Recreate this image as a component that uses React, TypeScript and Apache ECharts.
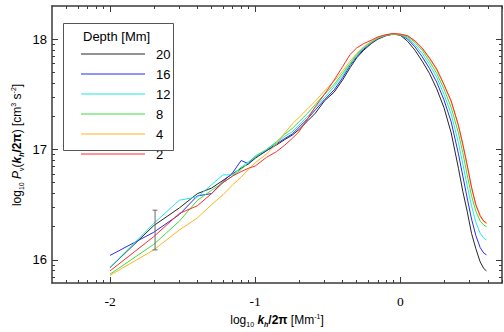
import React, { useEffect, useRef } from 'react';
import * as echarts from 'echarts';

// log10 kh/2pi sample positions
const logK = [-2.0, -1.699, -1.523, -1.398, -1.301, -1.222, -1.155, -1.097, -1.046, -1.0, -0.921, -0.854, -0.796, -0.745, -0.699, -0.638, -0.585, -0.523, -0.456, -0.398, -0.347, -0.301, -0.252, -0.2, -0.155, -0.1, -0.05,
  0.0, 0.05, 0.1, 0.15, 0.2, 0.25, 0.3, 0.35, 0.4, 0.43, 0.46, 0.49, 0.52, 0.55, 0.575, 0.593];

const depth20 = [15.93, 16.31, 16.47, 16.60, 16.65, 16.72, 16.78, 16.83, 16.87, 16.92, 16.99, 17.04, 17.09, 17.13, 17.18, 17.26, 17.33, 17.44, 17.52, 17.63, 17.74, 17.83, 17.90, 17.96, 18.00, 18.03, 18.045,
  18.035, 17.98, 17.90, 17.80, 17.69, 17.55, 17.38, 17.15, 16.83, 16.62, 16.44, 16.24, 16.10, 15.98, 15.92, 15.90];
const depth16 = [16.04, 16.25, 16.41, 16.58, 16.60, 16.71, 16.79, 16.90, 16.87, 16.93, 16.99, 17.05, 17.10, 17.14, 17.20, 17.28, 17.36, 17.45, 17.54, 17.65, 17.76, 17.84, 17.91, 17.965, 18.005, 18.035, 18.045,
  18.04, 18.00, 17.93, 17.84, 17.735, 17.61, 17.45, 17.25, 16.96, 16.76, 16.56, 16.37, 16.22, 16.11, 16.06, 16.045];
const depth12 = [15.93, 16.33, 16.54, 16.57, 16.68, 16.77, 16.77, 16.84, 16.89, 16.93, 17.00, 17.06, 17.12, 17.16, 17.22, 17.30, 17.38, 17.47, 17.57, 17.67, 17.77, 17.85, 17.92, 17.97, 18.01, 18.035, 18.045,
  18.04, 18.01, 17.95, 17.87, 17.77, 17.655, 17.50, 17.32, 17.06, 16.87, 16.67, 16.49, 16.34, 16.24, 16.195, 16.18];
const depth8 = [15.87, 16.14, 16.35, 16.54, 16.63, 16.70, 16.76, 16.82, 16.88, 16.94, 17.00, 17.07, 17.14, 17.19, 17.25, 17.33, 17.41, 17.50, 17.59, 17.69, 17.78, 17.86, 17.93, 17.975, 18.01, 18.035, 18.045,
  18.04, 18.02, 17.97, 17.90, 17.80, 17.69, 17.55, 17.38, 17.15, 16.97, 16.77, 16.58, 16.44, 16.35, 16.315, 16.30];
const depth4 = [15.86, 16.09, 16.27, 16.38, 16.50, 16.59, 16.68, 16.75, 16.82, 16.88, 16.96, 17.05, 17.15, 17.23, 17.29, 17.37, 17.44, 17.53, 17.62, 17.71, 17.80, 17.87, 17.93, 17.98, 18.015, 18.04, 18.05,
  18.045, 18.03, 17.98, 17.915, 17.825, 17.72, 17.585, 17.43, 17.21, 17.04, 16.85, 16.65, 16.49, 16.39, 16.345, 16.33];
const depth2 = [15.90, 16.21, 16.42, 16.49, 16.60, 16.70, 16.76, 16.80, 16.83, 16.85, 16.93, 16.98, 17.04, 17.10, 17.16, 17.28, 17.39, 17.50, 17.63, 17.75, 17.86, 17.92, 17.96, 17.99, 18.02, 18.04, 18.05,
  18.045, 18.03, 17.985, 17.92, 17.83, 17.73, 17.59, 17.44, 17.22, 17.05, 16.86, 16.66, 16.50, 16.40, 16.35, 16.335];

const depthLabels = ['20', '16', '12', '8', '4', '2'];
const depthValues = [depth20, depth16, depth12, depth8, depth4, depth2];
const depthColors = ['#262626', '#2a2af0', '#22e6e6', '#3ede3e', '#ffb41e', '#ff2b2b'];

// representative error bar: [x, low, high]
const errorBar = [[-1.69, 16.09, 16.45]];

const xMajor = [-2, -1, 0];
const xMinor = [-2.301, -2.222, -2.155, -2.097, -2.046, -1.699, -1.523, -1.398, -1.301, -1.222, -1.155, -1.097, -1.046,
  -0.699, -0.523, -0.398, -0.301, -0.222, -0.155, -0.097, -0.046, 0.301, 0.477, 0.602, 0.699];
const yMajor = [16, 17, 18];
const yMinor = [15.845, 15.903, 15.954, 16.301, 16.477, 16.602, 16.699, 16.778, 16.845, 16.903, 16.954,
  17.301, 17.477, 17.602, 17.699, 17.778, 17.845, 17.903, 17.954];

const X_MIN = -2.4, X_MAX = 0.7, Y_MIN = 15.79, Y_MAX = 18.3;
const frame = { color: '#3a3a3a', width: 1.5 };

export default function App() {
  const ref = useRef<HTMLDivElement>(null);
  useEffect(() => {
    const chart = echarts.init(ref.current!, null, { renderer: 'svg' });
    const gridRect = { left: 52, top: 6, right: 2, bottom: 49 };
    const baseX = (gridIndex: number, position: string) => ({
      type: 'value', gridIndex, position, min: X_MIN, max: X_MAX,
      splitLine: { show: false },
    });
    const baseY = (gridIndex: number, position: string) => ({
      type: 'value', gridIndex, position, min: Y_MIN, max: Y_MAX,
      splitLine: { show: false },
    });
    const sans = 'Liberation Sans, Arial, sans-serif';
    const richBase = {
      n: { fontSize: 12, fontFamily: sans, color: '#000', lineHeight: 15 },
      s: { fontSize: 7, fontFamily: sans, color: '#000', verticalAlign: 'bottom' },
      p: { fontSize: 7, fontFamily: sans, color: '#000', verticalAlign: 'top' },
      k: { fontSize: 12, fontFamily: sans, color: '#000', fontWeight: 'bold', fontStyle: 'italic', lineHeight: 15 },
      ks: { fontSize: 7, fontFamily: sans, color: '#000', fontWeight: 'bold', fontStyle: 'italic', verticalAlign: 'bottom' },
      b: { fontSize: 12, fontFamily: sans, color: '#000', fontWeight: 'bold', lineHeight: 15 },
      i: { fontSize: 12, fontFamily: sans, color: '#000', fontStyle: 'italic', lineHeight: 15 },
    };

    const lineSeries = depthLabels.map((name, si) => ({
      name,
      type: 'line',
      xAxisIndex: 0,
      yAxisIndex: 0,
      symbol: 'none',
      showSymbol: false,
      data: logK.map((x, i) => [x, depthValues[si][i]]),
      lineStyle: { color: depthColors[si], width: 1 },
      itemStyle: { color: depthColors[si] },
      z: 2 + si,
    }));

    const option = {
      animation: false,
      backgroundColor: '#ffffff',
      grid: [{ ...gridRect }, { ...gridRect }],
      xAxis: [
        {
          ...baseX(0, 'bottom'),
          axisLine: { show: true, onZero: false, lineStyle: frame },
          axisTick: { show: true, inside: true, length: 6, customValues: xMajor, lineStyle: { color: frame.color, width: 1 } },
          axisLabel: { show: true, customValues: xMajor, margin: 11, fontFamily: 'Liberation Serif, Times New Roman, serif', fontSize: 13.5, color: '#000' },
        },
        {
          ...baseX(0, 'top'),
          axisLine: { show: true, onZero: false, lineStyle: frame },
          axisTick: { show: true, inside: true, length: 6, customValues: xMajor, lineStyle: { color: frame.color, width: 1 } },
          axisLabel: { show: false },
        },
        {
          ...baseX(1, 'bottom'),
          axisLine: { show: false, onZero: false },
          axisTick: { show: true, inside: true, length: 3, customValues: xMinor, lineStyle: { color: frame.color, width: 1 } },
          axisLabel: { show: false },
        },
        {
          ...baseX(1, 'top'),
          axisLine: { show: false, onZero: false },
          axisTick: { show: true, inside: true, length: 3, customValues: xMinor, lineStyle: { color: frame.color, width: 1 } },
          axisLabel: { show: false },
        },
      ],
      yAxis: [
        {
          ...baseY(0, 'left'),
          axisLine: { show: true, onZero: false, lineStyle: frame },
          axisTick: { show: true, inside: true, length: 6, customValues: yMajor, lineStyle: { color: frame.color, width: 1 } },
          axisLabel: { show: true, customValues: yMajor, margin: 5, fontFamily: sans, fontSize: 13, color: '#000' },
        },
        {
          ...baseY(0, 'right'),
          axisLine: { show: true, onZero: false, lineStyle: frame },
          axisTick: { show: true, inside: true, length: 6, customValues: yMajor, lineStyle: { color: frame.color, width: 1 } },
          axisLabel: { show: false },
        },
        {
          ...baseY(1, 'left'),
          axisLine: { show: false, onZero: false },
          axisTick: { show: true, inside: true, length: 3, customValues: yMinor, lineStyle: { color: frame.color, width: 1 } },
          axisLabel: { show: false },
        },
        {
          ...baseY(1, 'right'),
          axisLine: { show: false, onZero: false },
          axisTick: { show: true, inside: true, length: 3, customValues: yMinor, lineStyle: { color: frame.color, width: 1 } },
          axisLabel: { show: false },
        },
      ],
      legend: {
        orient: 'vertical',
        left: 80,
        top: 47.5,
        padding: 0,
        itemWidth: 64,
        itemHeight: 10,
        itemGap: 7,
        data: depthLabels,
        lineStyle: { width: 2, opacity: 0.5 },
        itemStyle: { opacity: 0, borderWidth: 0 },
        formatter: '{t|{name}}',
        textStyle: {
          fontSize: 13, fontFamily: sans, color: '#000',
          rich: { t: { fontSize: 13, fontFamily: sans, color: '#000', padding: [0, 0, 0, 6] } },
        },
        selectedMode: false,
      },
      graphic: [
        {
          type: 'rect',
          shape: { x: 63.5, y: 23.5, width: 110, height: 127 },
          style: { fill: 'none', stroke: '#555', lineWidth: 1 },
          z: 10,
        },
        {
          type: 'text',
          x: 83, y: 36,
          style: { text: 'Depth [Mm]', fontSize: 13, fontFamily: sans, fill: '#000', align: 'left', verticalAlign: 'middle' },
          z: 10,
        },
        {
          type: 'text',
          x: 277, y: 320,
          style: {
            text: '{n|log}{s|10}{n| }{k|k}{ks|h}{b|/2π}{n| [Mm}{p|-1}{n|]}',
            rich: richBase,
            align: 'center',
            verticalAlign: 'middle',
          },
          z: 10,
        },
        {
          type: 'text',
          x: 17, y: 145,
          rotation: Math.PI / 2,
          style: {
            text: '{n|log}{s|10}{n| }{i|P}{s|ν}{n|(}{k|k}{ks|h}{b|/2π}{n|) [cm}{p|3}{n| s}{p|-2}{n|]}',
            rich: richBase,
            align: 'center',
            verticalAlign: 'middle',
          },
          z: 10,
        },
      ],
      series: [
        ...lineSeries,
        {
          type: 'custom',
          name: 'errorbar',
          xAxisIndex: 0,
          yAxisIndex: 0,
          data: errorBar,
          encode: { x: 0, y: [1, 2] },
          z: 20,
          renderItem: (params: any, api: any) => {
            const x = api.value(0);
            const top = api.coord([x, api.value(2)]);
            const bot = api.coord([x, api.value(1)]);
            const st = { stroke: '#6a6a6a', lineWidth: 1 };
            return {
              type: 'group',
              children: [
                { type: 'line', shape: { x1: top[0], y1: top[1], x2: bot[0], y2: bot[1] }, style: st },
                { type: 'line', shape: { x1: top[0] - 2.5, y1: top[1], x2: top[0] + 2.5, y2: top[1] }, style: st },
                { type: 'line', shape: { x1: bot[0] - 2.5, y1: bot[1], x2: bot[0] + 2.5, y2: bot[1] }, style: st },
              ],
            };
          },
        },
      ],
    };
    chart.setOption(option as any);
    return () => chart.dispose();
  }, []);
  return <div ref={ref} style={{ position: 'fixed', left: 0, top: 0, width: 504, height: 332, background: '#fff' }} />;
}
